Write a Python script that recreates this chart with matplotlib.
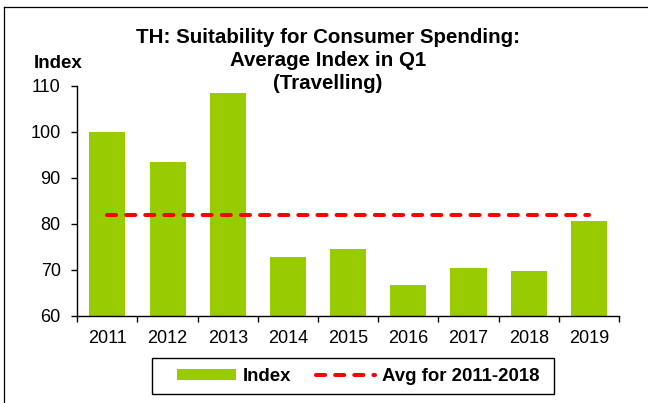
import numpy as np
import matplotlib
matplotlib.use("Agg")
import matplotlib.pyplot as plt
from matplotlib.patches import Rectangle, Patch
from matplotlib.lines import Line2D

plt.rcParams['font.family'] = ['Liberation Sans', 'DejaVu Sans']

# data
years = ["2011", "2012", "2013", "2014", "2015", "2016", "2017", "2018", "2019"]
index_vals = [99.9, 93.5, 108.4, 72.7, 74.5, 66.7, 70.3, 69.7, 80.7]
avg_years = ["2011", "2012", "2013", "2014", "2015", "2016", "2017", "2018"]

green = "#99CC00"
red = "#FF0000"

x = np.arange(len(years))
avg_val = np.mean(index_vals[:len(avg_years)])

fig = plt.figure(figsize=(6.48, 4.03), dpi=100)
ax = fig.add_axes([77.3/648, 1-315.7/403, (619-77.3)/648, (315.7-86)/403])

ax.bar(x, index_vals, width=0.6, color=green, edgecolor="none", zorder=2)
ax.plot([0, len(avg_years)], [avg_val, avg_val], color=red, lw=2.9,
        dashes=(2.25, 2.5), dash_capstyle="round", zorder=3)

ax.set_xlim(-0.5, len(years) - 0.5)
ax.set_ylim(60, 110)
ax.set_yticks([60, 70, 80, 90, 100, 110])
ax.set_xticks(x)
ax.set_xticklabels(years)
ax.set_xticks(np.arange(len(years) + 1) - 0.5, minor=True)

for s in ["top", "right"]:
    ax.spines[s].set_visible(False)
for s in ["left", "bottom"]:
    ax.spines[s].set_linewidth(1.0)
    ax.spines[s].set_color("black")

ax.tick_params(axis="x", which="major", length=0, pad=10.5, labelsize=13)
ax.tick_params(axis="x", which="minor", length=4, width=1.0, direction="out")
ax.tick_params(axis="y", length=4, width=1.0, direction="out", pad=8, labelsize=13)

# title lines
fig.text(328/648, 1-43.3/403, "TH: Suitability for Consumer Spending:",
         ha="center", va="baseline", fontsize=14.8, fontweight="bold")
fig.text(328/648, 1-65.7/403, "Average Index in Q1",
         ha="center", va="baseline", fontsize=14.8, fontweight="bold")
fig.text(328/648, 1-89/403, "(Travelling)",
         ha="center", va="baseline", fontsize=14.8, fontweight="bold")
fig.text(58/648, 1-68.3/403, "Index", ha="center", va="baseline",
         fontsize=13.5, fontweight="bold")

# legend
handles = [Patch(facecolor=green, edgecolor="none"),
           Line2D([0], [0], color=red, lw=2.9, dashes=(2.25, 2.5),
                  dash_capstyle="round")]
labels = ["Index", "Avg for " + avg_years[0] + "-" + avg_years[-1]]
fig.patches.append(Rectangle((152/648, 1-394/403), 402/648, 36/403,
                             transform=fig.transFigure, fill=False,
                             edgecolor="black", lw=1.0))
fig.legend(handles, labels, loc="center", bbox_to_anchor=(358/648, 1-376.5/403),
           ncol=2, frameon=False, borderpad=0, handlelength=3.2,
           handleheight=0.55, handletextpad=0.36, columnspacing=1.3,
           prop={"weight": "bold", "size": 13.4})

# border of the outer box (top and left edges visible)
fig.add_artist(Line2D([4/648, 1], [1-6.7/403, 1-6.7/403], color="black", lw=0.9))
fig.add_artist(Line2D([4/648, 4/648], [0, 1-6.7/403], color="black", lw=0.9))

fig.savefig("out.png", dpi=100)
